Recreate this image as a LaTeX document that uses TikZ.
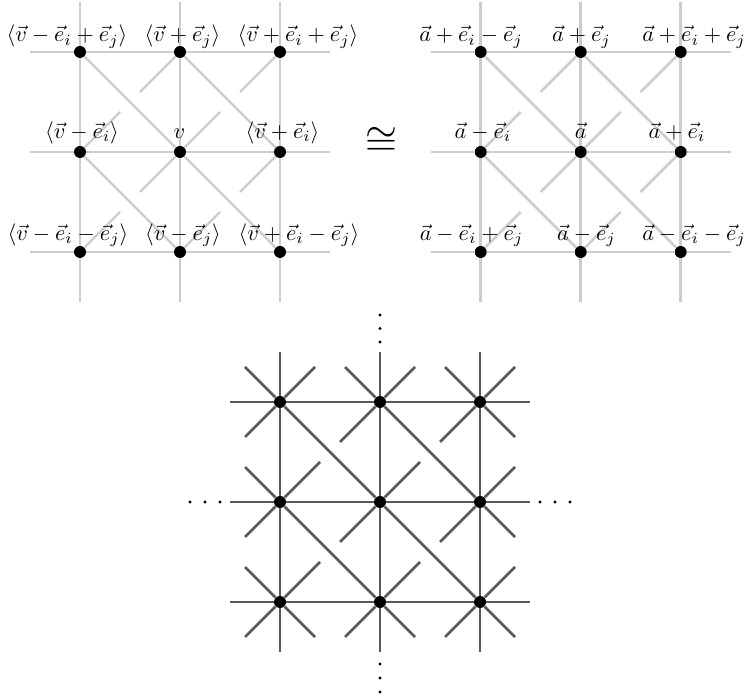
\documentclass[tikz,border=0pt]{standalone}
\usetikzlibrary{calc,backgrounds}
\begin{document}
\begin{tikzpicture}[x=0.45pt,y=-0.45pt,
  dot/.style={circle,fill=black,inner sep=0pt,minimum size=5.4pt},
  lgt/.style={draw=black!20,line width=1.1pt},
  drk/.style={draw=black!65,line width=1.2pt},
  lbl/.style={anchor=base,inner sep=0pt},
  edot/.style={fill=black}]
\useasboundingbox (0,0) rectangle (748,698);

% vertices of the three grids
\foreach \i in {0,1,2} {
  \foreach \j in {0,1,2} {
    \node[dot] (L\i\j) at (80+100*\i, 52+100*\j) {};
    \node[dot] (R\i\j) at (480.7+100*\i, 52+100*\j) {};
    \node[dot] (B\i\j) at (280+100*\i, 402+100*\j) {};
  }
}

% free ends of the lattice lines
\foreach \G/\x/\y in {L/80/52, R/480.7/52, B/280/402} {
  \foreach \k in {0,1,2} {
    \coordinate (\G w\k) at (\x-50, \y+100*\k);
    \coordinate (\G e\k) at (\x+250, \y+100*\k);
    \coordinate (\G n\k) at (\x+100*\k, \y-50);
    \coordinate (\G s\k) at (\x+100*\k, \y+250);
  }
}

\begin{scope}[on background layer]
\foreach \G/\s in {L/lgt, R/lgt, B/drk} {
  \foreach \k in {0,1,2} {
    \draw[\s] (\G w\k) -- (\G 0\k) -- (\G 1\k) -- (\G 2\k) -- (\G e\k);
    \draw[\s] (\G n\k) -- (\G \k0) -- (\G \k1) -- (\G \k2) -- (\G s\k);
  }
  \draw[\s] (\G 00) -- (\G 11) -- (\G 22);
  \draw[\s] (\G 10) -- (\G 21);
  \draw[\s] (\G 01) -- (\G 12);
  \foreach \a/\b in {10/01, 20/11, 11/02, 21/12} {
    \draw[\s] (\G\a) -- ($(\G\a)!0.4!(\G\b)$);
    \draw[\s] ($(\G\a)!0.6!(\G\b)$) -- (\G\b);
  }
}
% outward stubs of the bottom grid
\foreach \n in {00,10,20,01,02} {\draw[drk] (B\n) -- ++(-35,-35) coordinate (B\n ul);}
\foreach \n in {20,21,22,02,12} {\draw[drk] (B\n) -- ++(35,35) coordinate (B\n dr);}
\foreach \n in {00,01,02,12,22} {\draw[drk] (B\n) -- ++(-35,35) coordinate (B\n dl);}
\foreach \n in {00,10,20,21,22} {\draw[drk] (B\n) -- ++(35,-35) coordinate (B\n ur);}
\end{scope}

% labels, left grid
\node[lbl] (tL02) at (67,42)    {$\langle\vec v-\vec e_i+\vec e_j\rangle$};
\node[lbl] (tL12) at (182.5,42) {$\langle\vec v+\vec e_j\rangle$};
\node[lbl] (tL22) at (298,42)   {$\langle\vec v+\vec e_i+\vec e_j\rangle$};
\node[lbl] (tL01) at (82,138.5)    {$\langle\vec v-\vec e_i\rangle$};
\node[lbl] (tL11) at (179.5,138.5) {$v$};
\node[lbl] (tL21) at (282.5,138.5) {$\langle\vec v+\vec e_i\rangle$};
\node[lbl] (tL00) at (68,240.5)  {$\langle\vec v-\vec e_i-\vec e_j\rangle$};
\node[lbl] (tL10) at (183,240.5) {$\langle\vec v-\vec e_j\rangle$};
\node[lbl] (tL20) at (299,240.5) {$\langle\vec v+\vec e_i-\vec e_j\rangle$};

% labels, right grid
\node[lbl] (tR02) at (471,42)   {$\vec a+\vec e_i-\vec e_j$};
\node[lbl] (tR12) at (581.5,42) {$\vec a+\vec e_j$};
\node[lbl] (tR22) at (694,42)   {$\vec a+\vec e_i+\vec e_j$};
\node[lbl] (tR01) at (483,138.5)   {$\vec a-\vec e_i$};
\node[lbl] (tR11) at (580.7,138.5) {$\vec a$};
\node[lbl] (tR21) at (677,138.5)   {$\vec a+\vec e_i$};
\node[lbl] (tR00) at (471.5,240.5) {$\vec a-\vec e_i+\vec e_j$};
\node[lbl] (tR10) at (586.5,240.5) {$\vec a-\vec e_j$};
\node[lbl] (tR20) at (694,240.5)   {$\vec a-\vec e_i-\vec e_j$};

% congruence sign
\node[scale=1.85,inner sep=0pt] (cong) at (381,141.5) {$\cong$};

% ellipsis dots
\foreach \yy in {315,328.5,342,664,678,692} {\fill[edot] (380,\yy) circle (0.75pt);}
\foreach \xx in {190,205,220,540,555,570} {\fill[edot] (\xx,502) circle (0.75pt);}
\end{tikzpicture}
\end{document}
